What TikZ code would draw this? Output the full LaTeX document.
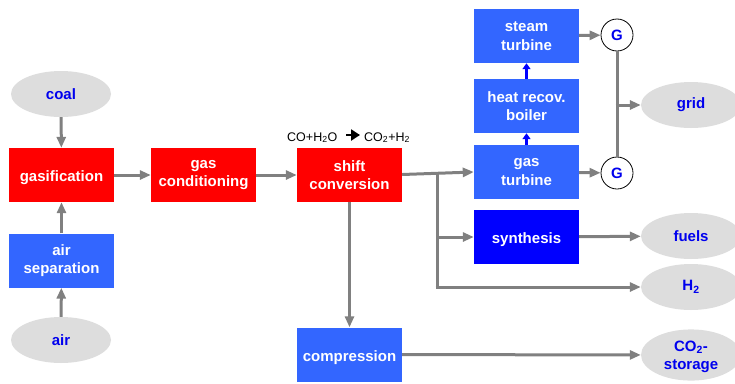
\documentclass[tikz,border=0pt]{standalone}
\usepackage{fontspec}
\setmainfont{Liberation Sans}
\usetikzlibrary{arrows.meta,shapes.geometric}
\definecolor{boxred}{HTML}{FF0000}
\definecolor{boxblue}{HTML}{3366FF}
\definecolor{boxdark}{HTML}{0000FF}
\definecolor{ellfill}{HTML}{DDDDDD}
\definecolor{flowgray}{HTML}{808080}
\definecolor{elltext}{HTML}{0000EE}
\tikzset{
  procbox/.style={rectangle, minimum width=105pt, minimum height=54pt, inner sep=0pt,
    text=white, font=\fontsize{15}{18.5}\selectfont\bfseries, align=center,
    execute at begin node={\rule{0pt}{16.5pt}}},
  redbox/.style={procbox, fill=boxred},
  bluebox/.style={procbox, fill=boxblue},
  darkbox/.style={procbox, fill=boxdark},
  product/.style={ellipse, fill=ellfill, minimum width=100pt, minimum height=46pt, inner sep=0pt,
    text=elltext, font=\fontsize{15}{18.5}\selectfont\bfseries, align=center},
  gen/.style={circle, draw=black, line width=0.8pt, fill=white, minimum size=32pt, inner sep=0pt,
    text=elltext, font=\fontsize{15}{18}\selectfont\bfseries},
  flow/.style={draw=flowgray, line width=3pt, -{Triangle[length=11pt,width=9pt]}},
  flowline/.style={draw=flowgray, line width=3pt},
  heatflow/.style={draw=boxdark, line width=2.5pt, -{Triangle[length=6pt,width=8pt]}},
  eqtext/.style={font=\fontsize{12.5}{15}\selectfont, inner sep=0pt}
}
\begin{document}
\begin{tikzpicture}[x=1pt,y=-1pt]
\useasboundingbox (0,0) rectangle (735,383);
% process boxes
\node[redbox] (gasif) at (61.5,175) {gasification};
\node[redbox] (gascond) at (203.5,175) {gas\\conditioning};
\node[bluebox] (airsep) at (61.5,260.5) {air\\separation};
\node[redbox] (shift) at (349.5,175) {shift\\conversion};
\node[bluebox] (compr) at (349.5,354.5) {compression};
\node[bluebox] (gasturb) at (526.5,172) {gas\\turbine};
\node[bluebox] (boiler) at (526.5,106) {heat recov.\\boiler};
\node[bluebox] (steam) at (526.5,36) {steam\\turbine};
\node[darkbox] (synth) at (526.5,237) {synthesis};
% generators
\node[gen] (g1) at (617,35) {G};
\node[gen] (g2) at (617,173) {G};
% products
\node[product] (coal) at (61,94) {coal};
\node[product] (air) at (61,340) {air};
\node[product] (grid) at (691,105) {grid};
\node[product] (fuels) at (691,236) {fuels};
\node[product] (htwo) at (691,287) {H\textsubscript{2}};
\node[product] (cotwo) at (691,355) {\rule{0pt}{14.5pt}CO\textsubscript{2}-\\storage};
% equation
\node[eqtext, anchor=base west] (eqL) at (287,141) {CO+H\textsubscript{2}O};
\node[eqtext, anchor=base west] (eqR) at (364,141) {CO\textsubscript{2}+H\textsubscript{2}};
\coordinate (eqA) at (346,135);
\coordinate (eqB) at (360,135);
\draw[line width=2.2pt, -{Triangle[length=9pt,width=11pt]}] (eqA) -- (eqB);
% flows
\draw[flow] (coal) -- (gasif);
\draw[flow] (air) -- (airsep);
\draw[flow] (airsep) -- (gasif);
\draw[flow] (gasif) -- (gascond);
\draw[flow] (gascond) -- (shift);
\coordinate (br) at (437,174);
\coordinate (brlow) at (437,287);
\draw[flow] (shift.east |- 0,174.5) -- (gasturb.west);
\draw[flowline] (br) -- (brlow);
\draw[flow] (437,237) -- (synth.west);
\draw[flow] ([xshift=-1.5pt]brlow) -- (htwo.west);
\draw[flow] (shift) -- (compr);
\draw[flow] (compr) -- (cotwo);
\draw[flow] (synth) -- (fuels);
\draw[flow] (gasturb) -- (g2);
\draw[flow] (steam) -- (g1);
\draw[flowline] (g1) -- (g2);
\coordinate (gj) at (617,105);
\draw[flow] ([xshift=-1.5pt]gj) -- (grid.west);
\draw[heatflow] (gasturb) -- (boiler);
\draw[heatflow] (boiler) -- (steam);
\end{tikzpicture}
\end{document}
